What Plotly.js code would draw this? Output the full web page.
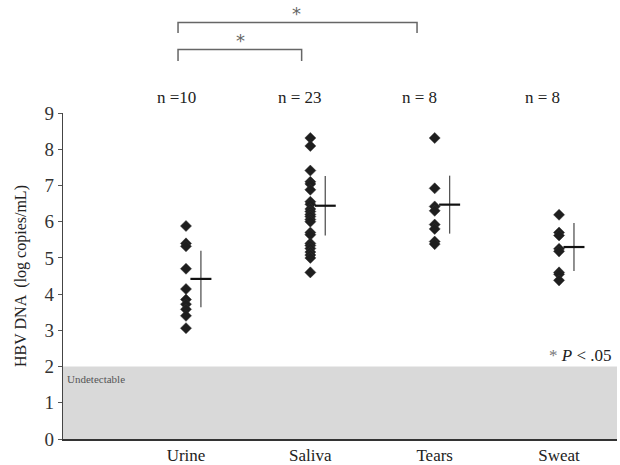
<!DOCTYPE html>
<html>
<head>
<meta charset="utf-8">
<script src="https://cdn.plot.ly/plotly-3.0.1.min.js"></script>
<style>html,body{margin:0;padding:0;background:#fff;}#chart{width:620px;height:465px;}</style>
</head>
<body>
<div id="chart"></div>
<script>
// ---- data ----
const categories = ["Urine", "Saliva", "Tears", "Sweat"];
const nLabels = ["n =10", "n = 23", "n = 8", "n = 8"];
const urine  = [5.88, 5.40, 5.32, 4.70, 4.14, 3.85, 3.72, 3.58, 3.40, 3.06];
const saliva = [8.31, 8.09, 7.41, 7.10, 7.04, 6.88, 6.55, 6.48, 6.35, 6.28, 6.20, 6.14, 6.06, 6.00,
                5.70, 5.64, 5.40, 5.34, 5.26, 5.16, 5.08, 5.00, 4.60];
const tears  = [8.31, 6.92, 6.42, 6.30, 5.92, 5.80, 5.45, 5.38];
const sweat  = [6.19, 5.70, 5.62, 5.25, 5.18, 4.60, 4.55, 4.38];
const means  = [4.42, 6.44, 6.47, 5.30];
const sds    = [0.78, 0.82, 0.80, 0.66];
const groups = [urine, saliva, tears, sweat];
const nPos = [0.92, 1.92, 2.88, 3.87];

const meanOffset = 0.12;
const traces = [];
groups.forEach((g, i) => {
  traces.push({
    type: "scatter", mode: "markers",
    x: g.map(() => i + 1), y: g,
    marker: {symbol: "diamond", size: 8.5, color: "#1e1e1e", line: {width: 0.5, color: "#333"}},
    showlegend: false, hoverinfo: "y"
  });
});
traces.push({
  type: "scatter", mode: "markers",
  x: means.map((m, i) => i + 1 + meanOffset), y: means,
  marker: {symbol: "line-ew", size: 15, line: {width: 2.2, color: "#111"}},
  error_y: {type: "data", array: sds, visible: true, thickness: 1.3, width: 0, color: "#555"},
  showlegend: false, hoverinfo: "y"
});

const pTop = (439 - 113);
function py(px){ return (439 - px) / pTop; }

const annotations = [];
categories.forEach((c, i) => {
  annotations.push({x: nPos[i], y: py(97), xref: "x", yref: "paper", yanchor: "middle",
    text: nLabels[i], showarrow: false, font: {family: "Liberation Serif", size: 17, color: "#222"}});
});
annotations.push({x: 0.004, y: py(379), xref: "paper", yref: "paper", xanchor: "left", yanchor: "middle",
  text: "Undetectable", showarrow: false, font: {family: "Liberation Serif", size: 11, color: "#555"}});
annotations.push({x: 0.993, y: py(355), xref: "paper", yref: "paper", xanchor: "right", yanchor: "middle",
  text: "<span style='color:#777'>*</span> <i>P</i> < .05", showarrow: false,
  font: {family: "Liberation Serif", size: 17, color: "#222"}});
// significance stars
annotations.push({x: 1.89, y: py(14), xref: "x", yref: "paper", yanchor: "middle", text: "*", showarrow: false,
  font: {family: "DejaVu Sans", size: 18, color: "#666"}});
annotations.push({x: 1.44, y: py(41), xref: "x", yref: "paper", yanchor: "middle", text: "*", showarrow: false,
  font: {family: "DejaVu Sans", size: 18, color: "#666"}});

const brCol = "#666";
const shapes = [
  {type: "rect", xref: "paper", yref: "y", x0: 0, x1: 1, y0: 0, y1: 2,
   fillcolor: "#d9d9d9", line: {width: 0}, layer: "below"},
  // outer bracket Urine-Tears
  {type: "path", xref: "x", yref: "paper",
   path: `M 0.936 ${py(33)} L 0.936 ${py(22.5)} L 2.858 ${py(22.5)} L 2.858 ${py(33)}`,
   line: {color: brCol, width: 1.5}},
  // inner bracket Urine-Saliva
  {type: "path", xref: "x", yref: "paper",
   path: `M 0.936 ${py(61)} L 0.936 ${py(49.5)} L 1.93 ${py(49.5)} L 1.93 ${py(61)}`,
   line: {color: brCol, width: 1.5}}
];

const layout = {
  width: 620, height: 465,
  margin: {l: 63, r: 3, t: 113, b: 26},
  paper_bgcolor: "#fff", plot_bgcolor: "#fff",
  font: {family: "Liberation Serif", color: "#222"},
  xaxis: {range: [0.011, 4.466], showgrid: false, zeroline: false,
    showline: true, linecolor: "#333", linewidth: 1.5,
    tickvals: [1, 2, 3, 4], ticktext: categories, ticks: "",
    tickfont: {family: "Liberation Serif", size: 17, color: "#222"}},
  yaxis: {range: [0, 9], showgrid: false, zeroline: false,
    showline: true, linecolor: "#444", linewidth: 1.3,
    tickvals: [0,1,2,3,4,5,6,7,8,9], ticks: "outside", ticklen: 4, tickcolor: "#555",
    tickfont: {family: "Liberation Serif", size: 19, color: "#333"},
    title: {text: "HBV DNA  (log copies/mL)", standoff: 13,
      font: {family: "Liberation Serif", size: 16, color: "#222"}}},
  shapes: shapes,
  annotations: annotations
};
Plotly.newPlot("chart", traces, layout, {displayModeBar: false, staticPlot: true});
</script>
</body>
</html>
